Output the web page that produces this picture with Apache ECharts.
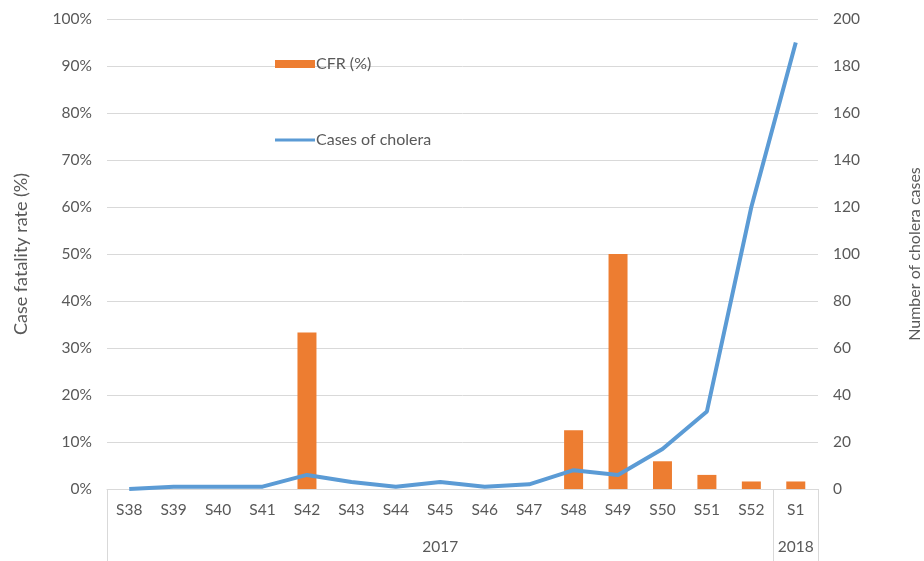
<!DOCTYPE html>
<html>
<head>
<meta charset="utf-8">
<script src="https://cdn.jsdelivr.net/npm/echarts@6/dist/echarts.min.js"></script>
<style>
  html, body { margin: 0; padding: 0; background: #fff; }
  #chart { width: 924px; height: 561px; }
</style>
</head>
<body>
<div id="chart"></div>
<script>
// Epidemiological weeks and their year groups
const weeks = ['S38','S39','S40','S41','S42','S43','S44','S45','S46','S47','S48','S49','S50','S51','S52','S1'];
const yearLabels = { 7: '2017', 15: '2018' };
// Case fatality rate per week (%)
const cfr = [0, 0, 0, 0, 33.3, 0, 0, 0, 0, 0, 12.5, 50, 5.9, 3.0, 1.6, 1.6];
// Weekly number of cholera cases
const cases = [0, 1, 1, 1, 6, 3, 1, 3, 1, 2, 8, 6, 17, 33, 120, 190];

const FONT = 'Lato, "Open Sans", sans-serif';
const TXT = '#595959';
const GRID = '#d9d9d9';
const TICK_SIZE = 15.5;

const chart = echarts.init(document.getElementById('chart'), null, { renderer: 'canvas' });
chart.setOption({
  animation: false,
  textStyle: { fontFamily: FONT },
  grid: { left: 107, right: 106, top: 19, bottom: 72, containLabel: false, outerBoundsMode: 'none' },
  legend: {
    orient: 'vertical',
    left: 270,
    top: 51,
    itemGap: 60,
    itemWidth: 40,
    itemHeight: 16,
    textStyle: { fontFamily: FONT, fontSize: 16, color: TXT, padding: [0, 0, 0, -4] },
    data: [
      { name: 'CFR (%)', icon: 'path://M0,4 L40,4 L40,12 L0,12 Z' },
      { name: 'Cases of cholera', icon: 'path://M0,6.5 L40,6.5 L40,9.5 L0,9.5 Z' }
    ]
  },
  xAxis: [
    {
      type: 'category',
      data: weeks,
      position: 'bottom',
      axisLine: { show: true, lineStyle: { color: GRID, width: 1 } },
      axisTick: { show: false },
      axisLabel: { color: TXT, fontSize: TICK_SIZE, margin: 13, fontFamily: FONT, interval: 0 }
    },
    {
      type: 'category',
      data: weeks,
      position: 'bottom',
      axisLine: { show: false },
      axisTick: {
        show: true,
        length: 72,
        interval: (i) => i === 0 || i === 15,
        lineStyle: { color: GRID, width: 1 }
      },
      axisLabel: {
        color: TXT, fontSize: TICK_SIZE, margin: 50, fontFamily: FONT, interval: 0,
        formatter: (v, i) => yearLabels[i] || ''
      }
    }
  ],
  yAxis: [
    {
      type: 'value',
      min: 0, max: 100, interval: 10,
      name: 'Case fatality rate (%)',
      nameLocation: 'middle',
      nameGap: 77,
      nameTextStyle: { color: TXT, fontSize: 18, fontFamily: FONT },
      axisLine: { show: false },
      axisTick: { show: false },
      axisLabel: { color: TXT, fontSize: TICK_SIZE, margin: 15, fontFamily: FONT, formatter: '{value}%' },
      splitLine: { lineStyle: { color: GRID, width: 1 } }
    },
    {
      type: 'value',
      min: 0, max: 200, interval: 20,
      name: 'Number of cholera cases',
      nameLocation: 'middle',
      nameGap: 89,
      nameRotate: 90,
      nameTextStyle: { color: TXT, fontSize: 16, fontFamily: FONT },
      axisLine: { show: false },
      axisTick: { show: false },
      axisLabel: { color: TXT, fontSize: TICK_SIZE, margin: 15, fontFamily: FONT },
      splitLine: { show: false }
    }
  ],
  series: [
    {
      name: 'CFR (%)',
      type: 'bar',
      xAxisIndex: 0,
      yAxisIndex: 0,
      data: cfr,
      barWidth: 19,
      itemStyle: { color: '#ED7D31' }
    },
    {
      name: 'Cases of cholera',
      type: 'line',
      xAxisIndex: 0,
      yAxisIndex: 1,
      data: cases,
      symbol: 'none',
      lineStyle: { color: '#5B9BD5', width: 4 },
      itemStyle: { color: '#5B9BD5' }
    }
  ]
});
</script>
</body>
</html>
